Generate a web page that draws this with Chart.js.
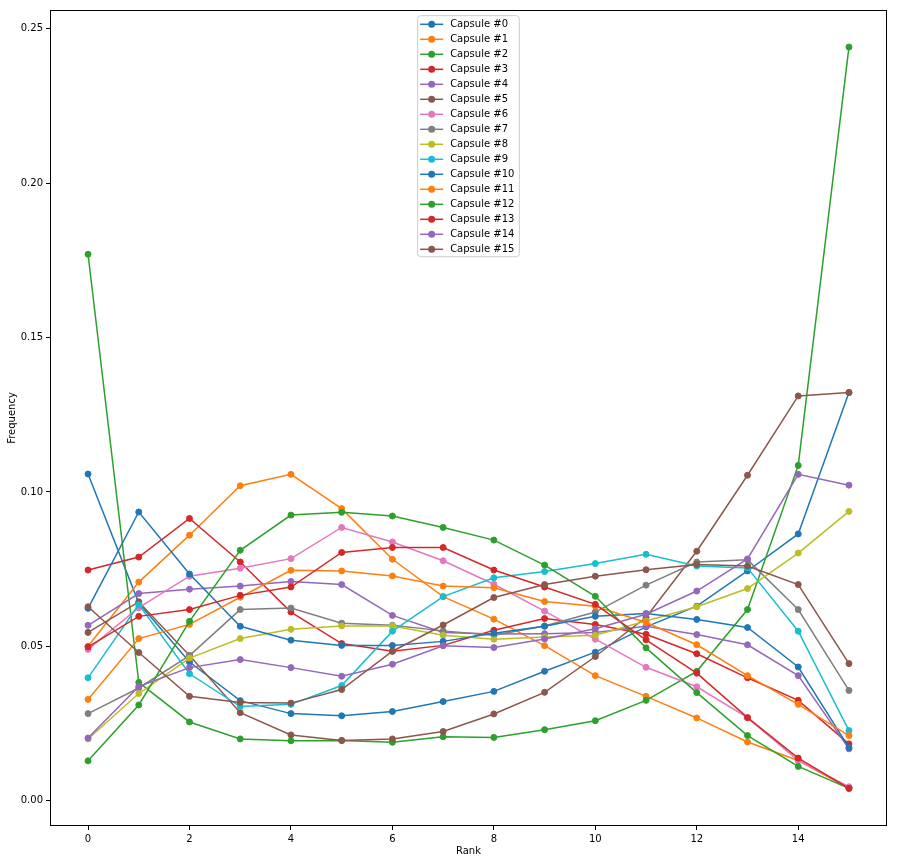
<!DOCTYPE html>
<html>
<head>
<meta charset="utf-8">
<script src="https://cdn.jsdelivr.net/npm/chart.js@4.4.0/dist/chart.umd.min.js"></script>
<style>
  body { margin: 0; background: #fff; }
  canvas { display: block; }
</style>
</head>
<body>
<canvas id="myChart" width="898" height="864"></canvas>
<script>
// rank positions on the x axis
const ranks = [0, 1, 2, 3, 4, 5, 6, 7, 8, 9, 10, 11, 12, 13, 14, 15];
const xTicks = [0, 2, 4, 6, 8, 10, 12, 14];
const yTicks = [0, 0.05, 0.10, 0.15, 0.20, 0.25];

// frequency per rank
const capsule0 = [0.1058, 0.0640, 0.0449, 0.0324, 0.0282, 0.0275, 0.0289, 0.0321, 0.0354, 0.0419, 0.0481, 0.0563, 0.0630, 0.0744, 0.0864, 0.1322];
const capsule1 = [0.0500, 0.0708, 0.0860, 0.1020, 0.1057, 0.0946, 0.0782, 0.0661, 0.0588, 0.0502, 0.0405, 0.0338, 0.0268, 0.0190, 0.0130, 0.0040];
const capsule2 = [0.1770, 0.0383, 0.0255, 0.0200, 0.0194, 0.0195, 0.0189, 0.0207, 0.0205, 0.0230, 0.0259, 0.0325, 0.0419, 0.0619, 0.1086, 0.2441];
const capsule3 = [0.0747, 0.0789, 0.0914, 0.0773, 0.0611, 0.0509, 0.0484, 0.0503, 0.0552, 0.0590, 0.0571, 0.0539, 0.0476, 0.0398, 0.0325, 0.0184];
const capsule4 = [0.0568, 0.0671, 0.0685, 0.0695, 0.0710, 0.0700, 0.0600, 0.0545, 0.0540, 0.0541, 0.0545, 0.0565, 0.0538, 0.0505, 0.0405, 0.0168];
const capsule5 = [0.0545, 0.0644, 0.0470, 0.0285, 0.0213, 0.0195, 0.0200, 0.0224, 0.0281, 0.0351, 0.0467, 0.0594, 0.0808, 0.1054, 0.1311, 0.1322];
const capsule6 = [0.0490, 0.0625, 0.0727, 0.0753, 0.0784, 0.0885, 0.0838, 0.0777, 0.0701, 0.0614, 0.0523, 0.0432, 0.0369, 0.0269, 0.0130, 0.0045];
const capsule7 = [0.0282, 0.0365, 0.0470, 0.0619, 0.0624, 0.0575, 0.0568, 0.0550, 0.0536, 0.0566, 0.0611, 0.0698, 0.0773, 0.0780, 0.0619, 0.0357];
const capsule8 = [0.0200, 0.0347, 0.0462, 0.0525, 0.0555, 0.0566, 0.0566, 0.0536, 0.0523, 0.0530, 0.0536, 0.0582, 0.0628, 0.0687, 0.0802, 0.0937];
const capsule9 = [0.0398, 0.0635, 0.0411, 0.0305, 0.0312, 0.0373, 0.0549, 0.0661, 0.0722, 0.0742, 0.0768, 0.0798, 0.0760, 0.0754, 0.0549, 0.0227];
const capsule10 = [0.0623, 0.0935, 0.0734, 0.0565, 0.0520, 0.0503, 0.0503, 0.0516, 0.0542, 0.0565, 0.0597, 0.0606, 0.0587, 0.0561, 0.0433, 0.0172];
const capsule11 = [0.0328, 0.0525, 0.0571, 0.0659, 0.0746, 0.0744, 0.0728, 0.0695, 0.0690, 0.0645, 0.0630, 0.0577, 0.0505, 0.0405, 0.0312, 0.0211];
const capsule12 = [0.0129, 0.0310, 0.0581, 0.0811, 0.0925, 0.0934, 0.0922, 0.0885, 0.0844, 0.0763, 0.0662, 0.0495, 0.0350, 0.0211, 0.0111, 0.0040];
const capsule13 = [0.0498, 0.0597, 0.0619, 0.0665, 0.0692, 0.0804, 0.0820, 0.0820, 0.0747, 0.0692, 0.0636, 0.0521, 0.0413, 0.0269, 0.0138, 0.0040];
const capsule14 = [0.0203, 0.0370, 0.0431, 0.0457, 0.0431, 0.0403, 0.0442, 0.0502, 0.0496, 0.0524, 0.0557, 0.0604, 0.0679, 0.0783, 0.1057, 0.1022];
const capsule15 = [0.0628, 0.0480, 0.0338, 0.0318, 0.0316, 0.0360, 0.0484, 0.0569, 0.0658, 0.0700, 0.0727, 0.0748, 0.0765, 0.0760, 0.0700, 0.0444];

const series = [capsule0, capsule1, capsule2, capsule3, capsule4, capsule5, capsule6, capsule7,
  capsule8, capsule9, capsule10, capsule11, capsule12, capsule13, capsule14, capsule15];
const names = series.map((s, i) => 'Capsule #' + i);

// matplotlib tab10 cycle
const colors = ['#1f77b4', '#ff7f0e', '#2ca02c', '#d62728', '#9467bd',
  '#8c564b', '#e377c2', '#7f7f7f', '#bcbd22', '#17becf'];

const FONT = 'DejaVu Sans';

var datasets = series.map(function(vals, i) {
  const c = colors[i % colors.length];
  return {
    label: names[i],
    data: ranks.map((r, j) => ({x: r, y: vals[j]})),
    borderColor: c,
    backgroundColor: c,
    borderWidth: 1.5,
    pointRadius: 3,
    pointBorderWidth: 1,
    pointBorderColor: c,
    pointBackgroundColor: c,
    tension: 0,
    order: series.length - i // later capsules on top, like matplotlib
  };
});

// black box round the plot area
const frame = {
  id: 'frame',
  afterDraw(chart) {
    const {ctx, chartArea: a} = chart;
    ctx.save();
    ctx.strokeStyle = '#000';
    ctx.lineWidth = 1;
    ctx.strokeRect(a.left + 0.5, a.top + 0.5, a.right - a.left - 1, a.bottom - a.top - 1);
    ctx.restore();
  }
};

// vertical legend in the upper centre of the plot
const boxLegend = {
  id: 'boxLegend',
  afterDraw(chart) {
    const {ctx, chartArea: a} = chart;
    ctx.save();
    ctx.font = '10px "' + FONT + '"';
    let textW = 0;
    names.forEach(n => { textW = Math.max(textW, ctx.measureText(n).width); });
    const rowH = 15;
    const w = 32.5 + textW + 5;
    const h = names.length * rowH + 1;
    const left = (a.left + a.right) / 2 - w / 2;
    const top = a.top + 5.7;

    ctx.fillStyle = 'rgba(255,255,255,0.8)';
    ctx.strokeStyle = '#cccccc';
    ctx.lineWidth = 1;
    ctx.beginPath();
    ctx.roundRect(left, top, w, h, 3);
    ctx.fill();
    ctx.stroke();

    names.forEach(function(n, i) {
      const y = top + 8.6 + i * rowH;
      const c = colors[i % colors.length];
      ctx.strokeStyle = c;
      ctx.lineWidth = 1.5;
      ctx.beginPath();
      ctx.moveTo(left + 2.5, y);
      ctx.lineTo(left + 25.5, y);
      ctx.stroke();
      ctx.fillStyle = c;
      ctx.beginPath();
      ctx.arc(left + 14, y, 3.5, 0, Math.PI * 2);
      ctx.fill();
      ctx.fillStyle = '#000';
      ctx.textBaseline = 'middle';
      ctx.textAlign = 'left';
      ctx.fillText(n, left + 32.5, y);
    });
    ctx.restore();
  }
};

var ctx = document.getElementById('myChart').getContext('2d');

var myChart = new Chart(ctx, {
  type: 'line',
  data: { datasets: datasets },
  options: {
    responsive: false,
    animation: false,
    events: [],
    layout: { padding: { left: 0, right: 11, top: 10, bottom: 0 } },
    plugins: {
      legend: { display: false },
      tooltip: { enabled: false }
    },
    scales: {
      x: {
        type: 'linear',
        min: -0.75,
        max: 15.75,
        afterBuildTicks: axis => { axis.ticks = xTicks.map(v => ({value: v})); },
        afterFit: axis => { axis.height = 38; },
        grid: { drawOnChartArea: false, drawTicks: true, tickLength: 4, color: '#000' },
        border: { display: false },
        ticks: { color: '#000', font: { family: FONT, size: 10 }, padding: 3, maxRotation: 0 },
        title: { display: true, text: 'Rank', color: '#000', font: { family: FONT, size: 10 }, padding: { top: 4, bottom: 7 } }
      },
      y: {
        type: 'linear',
        min: -0.0082,
        max: 0.2561,
        afterBuildTicks: axis => { axis.ticks = yTicks.map(v => ({value: v})); },
        afterFit: axis => { axis.width = 50; },
        grid: { drawOnChartArea: false, drawTicks: true, tickLength: 4, color: '#000' },
        border: { display: false },
        ticks: {
          color: '#000',
          font: { family: FONT, size: 10 },
          padding: 3,
          callback: v => v.toFixed(2)
        },
        title: { display: true, text: 'Frequency', color: '#000', font: { family: FONT, size: 10 }, padding: { top: 6, bottom: 4 } }
      }
    }
  },
  plugins: [frame, boxLegend]
});
</script>
</body>
</html>
